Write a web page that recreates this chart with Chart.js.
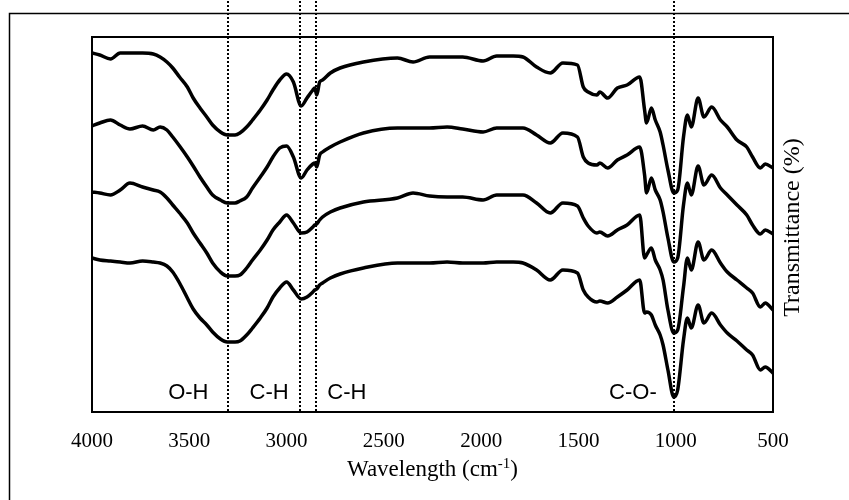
<!DOCTYPE html>
<html>
<head>
<meta charset="utf-8">
<script src="https://cdn.jsdelivr.net/npm/chart.js@4/dist/chart.umd.min.js"></script>
<style>
  html, body { margin: 0; padding: 0; background: #fff; }
  #wrap { width: 849px; height: 500px; }
</style>
</head>
<body>
<div id="wrap"><canvas id="c" width="849" height="500"></canvas></div>
<script>
// Wavenumber grid (cm-1), shared by all four spectra
const wavenumbers = [4000,3960,3905,3855,3805,3740,3685,3650,3615,3585,
  3550,3510,3480,3445,3410,3380,3340,3305,3265,3240,
  3205,3175,3135,3100,3070,3035,3000,2965,2925,2895,
  2865,2855,2845,2830,2815,2775,2725,2605,2430,2350,
  2265,2175,2095,1990,1920,1835,1785,1715,1645,1580,
  1505,1475,1450,1405,1390,1350,1300,1250,1185,1160,
  1150,1125,1105,1080,1065,1040,1010,990,960,940,
  920,885,855,815,770,735,685,635,605,565,
  540,500];

// Offset transmittance traces (arbitrary units, stacked top to bottom)
const spectrum1 = [359,357,353,359,359,359,358,355,350,344,
  335,325,314,304,295,287,280,277,277,279,
  285,292,302,312,322,332,338,330,306,314,
  322,324,317,330,332,339,344,350,354,350,
  355,355,355,351,356,356,355,345,339,349,
  347,325,320,317,320,314,324,327,335,302,
  289,304,292,280,267,242,219,222,275,297,
  285,314,295,305,292,285,272,265,255,244,
  248,244];
const spectrum2 = [286,289,292,287,283,286,282,285,282,275,
  266,255,246,235,225,217,212,209,209,211,
  215,224,235,245,255,264,266,255,234,242,
  248,249,245,257,260,265,270,279,284,284,
  284,285,283,280,284,284,284,277,269,279,
  275,255,249,247,249,244,252,257,265,237,
  219,234,222,212,200,174,150,154,207,229,
  217,246,227,237,224,217,207,197,187,178,
  182,178];
const spectrum3 = [220,219,217,222,229,225,222,220,214,207,
  199,189,179,169,159,149,140,136,136,137,
  144,152,162,172,182,190,197,189,179,180,
  185,187,188,192,195,200,204,210,214,219,
  216,215,215,212,217,217,217,209,199,209,
  206,194,186,179,180,176,182,187,197,154,
  157,164,152,142,132,102,79,82,125,154,
  142,170,152,162,149,140,132,124,119,105,
  109,102];
const spectrum4 = [154,152,151,150,149,151,150,149,146,140,
  129,114,103,94,87,80,73,70,70,71,
  77,84,94,104,115,124,130,122,113,115,
  120,122,123,127,129,134,138,144,149,149,
  149,150,149,149,150,150,149,142,132,142,
  139,122,115,110,111,109,115,122,132,99,
  100,97,87,77,67,42,15,22,72,94,
  84,107,89,99,87,79,71,62,57,42,
  45,39];

const xTicks = [4000,3500,3000,2500,2000,1500,1000,500];

// Band markers (dotted lines) and band labels
const bandLines = [3300, 2930, 2850, 1010];
const bandLabels = ['O-H', 'C-H', 'C-H', 'C-O-'];
const bandLabelPos = [3505, 3090, 2690, 1220];

const xTitle = 'Wavelength (cm';
const xTitleSup = '-1';
const yTitle = 'Transmittance (%)';

function toPoints(ys) { return wavenumbers.map((w, i) => ({ x: w, y: ys[i] })); }

const series = [spectrum1, spectrum2, spectrum3, spectrum4];

const decor = {
  id: 'decor',
  afterDatasetsDraw(chart) {
    const ctx = chart.ctx;
    const a = chart.chartArea;
    const xs = chart.scales.x;
    ctx.save();
    // dotted marker lines
    ctx.strokeStyle = '#000';
    ctx.lineWidth = 2;
    ctx.setLineDash([2, 2]);
    bandLines.forEach(w => {
      const px = Math.round(xs.getPixelForValue(w));
      ctx.beginPath();
      ctx.moveTo(px, 1);
      ctx.lineTo(px, a.bottom);
      ctx.stroke();
    });
    ctx.setLineDash([]);
    // band labels
    ctx.fillStyle = '#000';
    ctx.font = '22px "Liberation Sans", Arial, sans-serif';
    ctx.textAlign = 'center';
    ctx.textBaseline = 'alphabetic';
    bandLabels.forEach((t, i) => {
      ctx.fillText(t, xs.getPixelForValue(bandLabelPos[i]), a.bottom - 13);
    });
    ctx.restore();
  },
  afterDraw(chart) {
    const ctx = chart.ctx;
    const a = chart.chartArea;
    ctx.save();
    // plot frame
    ctx.strokeStyle = '#000';
    ctx.lineWidth = 2;
    ctx.strokeRect(a.left, a.top, a.right - a.left, a.bottom - a.top);
    // outer frame (left and top edges)
    ctx.lineWidth = 1.5;
    ctx.beginPath();
    ctx.moveTo(9.5, 500);
    ctx.lineTo(9.5, 13.5);
    ctx.lineTo(849, 13.5);
    ctx.stroke();
    // x title with superscript
    ctx.fillStyle = '#000';
    const big = '23px "Liberation Serif", "Times New Roman", serif';
    const small = '15px "Liberation Serif", "Times New Roman", serif';
    ctx.font = big;
    const w1 = ctx.measureText(xTitle).width;
    const w3 = ctx.measureText(')').width;
    ctx.font = small;
    const w2 = ctx.measureText(xTitleSup).width;
    const total = w1 + w2 + w3;
    const cx = (a.left + a.right) / 2;
    let x0 = cx - total / 2;
    const base = 476;
    ctx.textAlign = 'left';
    ctx.textBaseline = 'alphabetic';
    ctx.font = big;
    ctx.fillText(xTitle, x0, base);
    ctx.font = small;
    ctx.fillText(xTitleSup, x0 + w1, base - 8);
    ctx.font = big;
    ctx.fillText(')', x0 + w1 + w2, base);
    // y title (right side, rotated)
    ctx.translate(793, (a.top + a.bottom) / 2 + 3);
    ctx.rotate(-Math.PI / 2);
    ctx.textAlign = 'center';
    ctx.textBaseline = 'middle';
    ctx.font = '24px "Liberation Serif", "Times New Roman", serif';
    ctx.fillText(yTitle, 0, 0);
    ctx.restore();
  }
};

new Chart(document.getElementById('c'), {
  type: 'line',
  data: {
    datasets: series.map(s => ({
      data: toPoints(s),
      borderColor: '#000',
      borderWidth: 3.5,
      pointRadius: 0,
      fill: false,
      cubicInterpolationMode: 'monotone',
      borderJoinStyle: 'round',
      borderCapStyle: 'round'
    }))
  },
  options: {
    responsive: false,
    animation: false,
    layout: { padding: { left: 92, right: 76, top: 37, bottom: 0 } },
    plugins: { legend: { display: false }, tooltip: { enabled: false } },
    scales: {
      x: {
        type: 'linear',
        reverse: true,
        min: 500,
        max: 4000,
        afterBuildTicks(scale) { scale.ticks = xTicks.map(v => ({ value: v })); },
        afterFit(scale) { scale.height = 88; },
        grid: { display: false, drawTicks: false },
        border: { display: false },
        ticks: {
          color: '#000',
          padding: 17,
          maxRotation: 0,
          autoSkip: false,
          font: { family: '"Liberation Serif", "Times New Roman", serif', size: 21 },
          callback: v => String(v)
        }
      },
      y: {
        display: false,
        min: 0,
        max: 375
      }
    }
  },
  plugins: [decor]
});
</script>
</body>
</html>
